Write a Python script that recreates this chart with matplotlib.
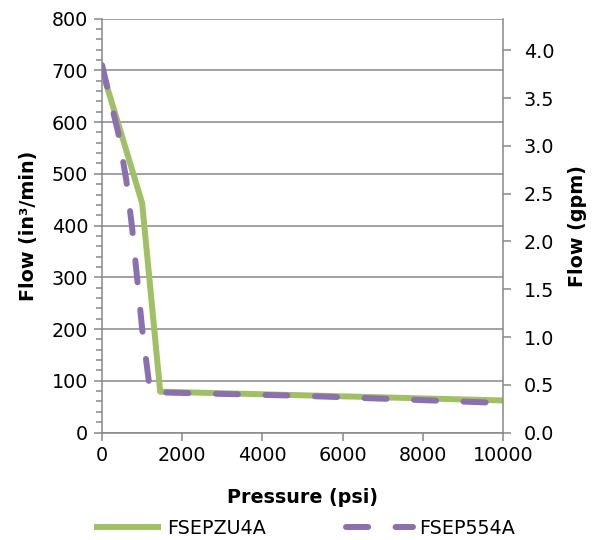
import matplotlib
matplotlib.use("Agg")
import matplotlib.pyplot as plt
from matplotlib.ticker import MultipleLocator, FormatStrFormatter

# data
zu4a_psi = [0, 500, 1000, 1450, 5000, 10000]
zu4a_flow = [700, 572, 443, 79, 72, 62]

p554a_psi = [0, 400, 600, 750, 1000, 1200, 5000, 10000]
p554a_flow = [710, 580, 490, 395, 200, 78, 71, 57]

green = "#a0c163"
purple = "#8b70b0"
axis_grey = "#888888"

plt.rcParams["font.family"] = "DejaVu Sans"
plt.rcParams["font.size"] = 13.8

fig = plt.figure(figsize=(5.97, 5.40), dpi=100)
ax = fig.add_axes([0.171, 0.199, 0.6715, 0.7665])

ax.plot(zu4a_psi, zu4a_flow, color=green, lw=4.3, solid_capstyle="butt",
        solid_joinstyle="round", label="FSEPZU4A", zorder=3)
ax.plot(p554a_psi, p554a_flow, color=purple, lw=4.3, dashes=(3.7, 4.6),
        dash_capstyle="round", label="FSEP554A", zorder=4)

ax.set_xlim(0, 10000)
ax.set_ylim(0, 800)
ax.xaxis.set_major_locator(MultipleLocator(2000))
ax.yaxis.set_major_locator(MultipleLocator(100))
ax.yaxis.set_minor_locator(MultipleLocator(20))
ax.grid(axis="y", color=axis_grey, lw=1.1)
ax.set_axisbelow(True)

for side in ["top", "right"]:
    ax.spines[side].set_visible(False)
for side in ["left", "bottom"]:
    ax.spines[side].set_color(axis_grey)
    ax.spines[side].set_linewidth(1.1)
ax.tick_params(axis="both", which="major", color=axis_grey, length=6, width=1.1, pad=4)
ax.tick_params(axis="y", which="minor", color=axis_grey, length=4, width=1.1)

ax.set_xlabel("Pressure (psi)", fontweight="bold", labelpad=16)
ax.set_ylabel("Flow (in³/min)", fontweight="bold", labelpad=10)

# secondary axis in gpm
ax2 = ax.twinx()
ax2.set_ylim(0, 4.333)
ax2.yaxis.set_major_locator(MultipleLocator(0.5))
ax2.yaxis.set_major_formatter(FormatStrFormatter("%.1f"))
for side in ["top", "left", "bottom"]:
    ax2.spines[side].set_visible(False)
ax2.spines["right"].set_color(axis_grey)
ax2.spines["right"].set_linewidth(1.1)
ax2.tick_params(axis="y", color=axis_grey, length=6, width=1.1, pad=9)
ax2.set_ylabel("Flow (gpm)", fontweight="bold", labelpad=10)

handles, labels = ax.get_legend_handles_labels()
fig.legend(handles, labels, loc="center", bbox_to_anchor=(0.51, 0.022), ncol=2,
           frameon=False, handlelength=3.5, columnspacing=4.2, handletextpad=0.3,
           borderaxespad=0, borderpad=0)

fig.savefig("out.png", dpi=100)
